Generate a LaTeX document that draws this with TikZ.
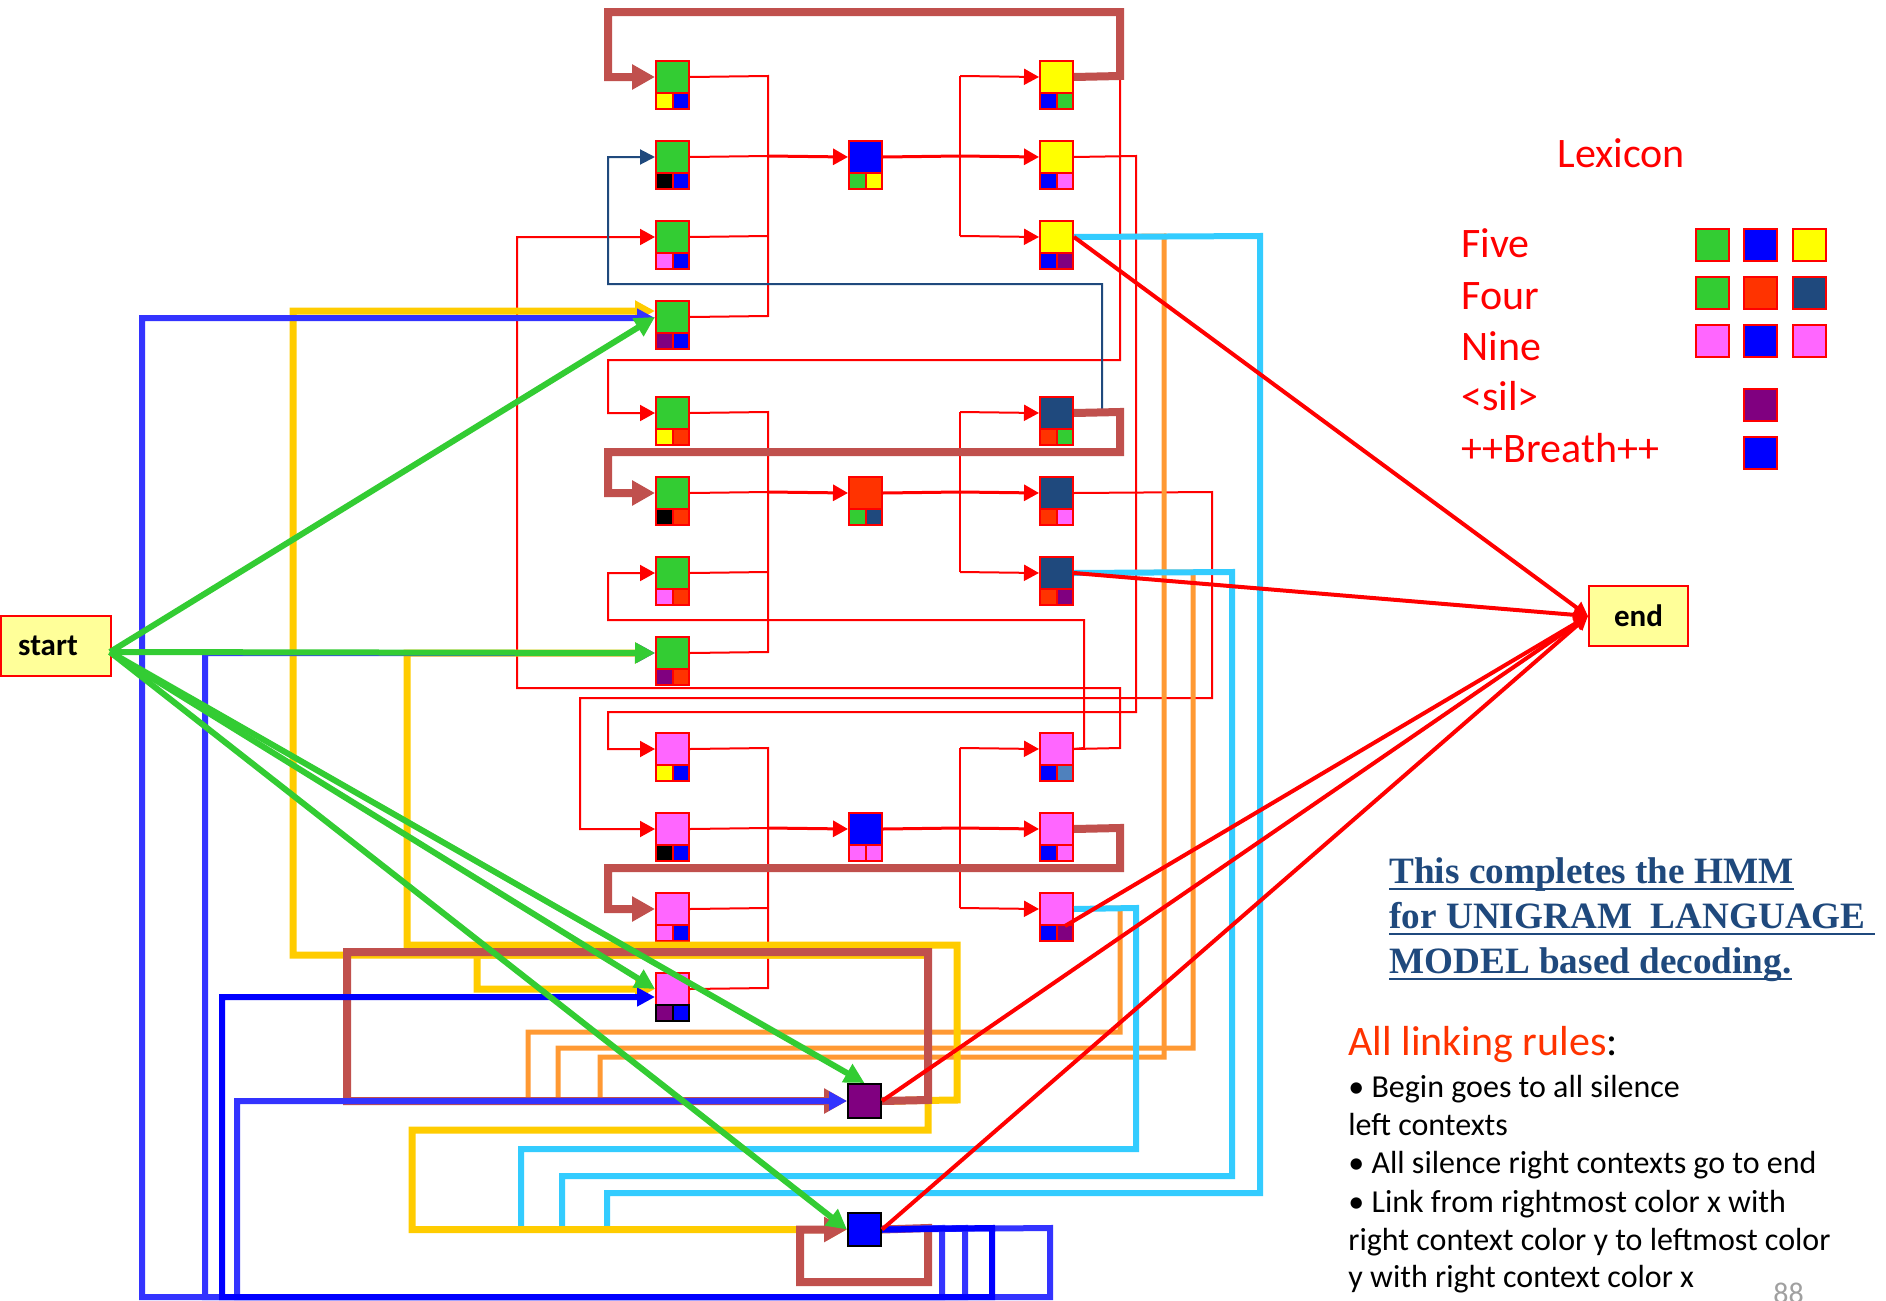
\documentclass[tikz,border=0pt]{standalone}
\usepackage{fontspec}
\setmainfont{Carlito}
\newfontfamily\tnr{Liberation Serif}
\usetikzlibrary{arrows.meta,calc}
\definecolor{cgreen}{HTML}{33CC33}
\definecolor{cblue}{HTML}{0000FF}
\definecolor{cyellow}{HTML}{FFFF00}
\definecolor{cred}{HTML}{FF3300}
\definecolor{cnavy}{HTML}{1F497D}
\definecolor{cpink}{HTML}{FF66FF}
\definecolor{cpurple}{HTML}{800080}
\definecolor{csteel}{HTML}{4F81BD}
\definecolor{cbrown}{HTML}{C0504D}
\definecolor{cgold}{HTML}{FFCC00}
\definecolor{clblue}{HTML}{3333FF}
\definecolor{corange}{HTML}{FF9933}
\definecolor{ccyan}{HTML}{33CCFF}
\definecolor{cstart}{HTML}{FFFF99}
\definecolor{chmm}{HTML}{1F497D}
\definecolor{cgray}{HTML}{A0A0A0}
\tikzset{
  sq/.style={draw=red, line width=1pt, anchor=north west, inner sep=0pt, minimum width=16.5pt, minimum height=16pt},
  subsq/.style={draw=red, line width=1pt, anchor=north west, inner sep=0pt, minimum width=8.25pt, minimum height=8pt},
  lx/.style={draw=red, line width=1pt, anchor=north west, inner sep=0pt, minimum width=16.5pt, minimum height=16pt},
  rl/.style={draw=red, line width=1pt},
  rlm/.style={draw=red, line width=1.5pt},
  rarr/.style={-{Triangle[length=7.5pt,width=8pt]}},
  navyl/.style={draw=cnavy, line width=1pt, -{Triangle[length=7.5pt,width=7.5pt]}},
  brl/.style={draw=cbrown, line width=4pt, -{Triangle[length=11.5pt,width=12pt]}},
  yl/.style={draw=cgold, line width=3.5pt, -{Triangle[length=10pt,width=10pt]}},
  bll/.style={draw=clblue, line width=3pt, -{Triangle[length=9pt,width=9pt]}},
  dbl/.style={draw=cblue, line width=3pt, -{Triangle[length=9pt,width=9pt]}},
  orl/.style={draw=corange, line width=2.5pt},
  cyl/.style={draw=ccyan, line width=3pt},
  gl/.style={draw=cgreen, line width=3pt, -{Triangle[length=10pt,width=10pt]}},
  el/.style={draw=red, line width=2pt, -{Triangle[length=7pt,width=7pt]}},
  txt/.style={anchor=base west, inner sep=0pt}
}
\newcommand{\hnode}[7][]{%
  \node[sq, fill=#5] (#2) at (#3,#4) {};
  \node[subsq, fill=#6, #1] (#2l) at (#3,#4+32) {};
  \node[subsq, fill=#7, #1] (#2r) at (#3+16.5,#4+32) {};
}
\begin{document}
\begin{tikzpicture}[x=0.5pt,y=-0.5pt]
\useasboundingbox (0,0) rectangle (1886,1301);
\fill[white] (0,0) rectangle (1886,1301);

% ---------- nodes: Five
\hnode{fa1}{655}{60}{cgreen}{cyellow}{cblue}
\hnode{fa2}{655}{140}{cgreen}{black}{cblue}
\hnode{fa3}{655}{220}{cgreen}{cpink}{cblue}
\hnode{fa4}{655}{300}{cgreen}{cpurple}{cblue}
\hnode{fm}{848}{140}{cblue}{cgreen}{cyellow}
\hnode{fr1}{1039}{60}{cyellow}{cblue}{cgreen}
\hnode{fr2}{1039}{140}{cyellow}{cblue}{cpink}
\hnode{fr3}{1039}{220}{cyellow}{cblue}{cpurple}
% ---------- Four
\hnode{oa1}{655}{396}{cgreen}{cyellow}{cred}
\hnode{oa2}{655}{476}{cgreen}{black}{cred}
\hnode{oa3}{655}{556}{cgreen}{cpink}{cred}
\hnode{oa4}{655}{636}{cgreen}{cpurple}{cred}
\hnode{om}{848}{476}{cred}{cgreen}{cnavy}
\hnode{or1}{1039}{396}{cnavy}{cred}{cgreen}
\hnode{or2}{1039}{476}{cnavy}{cred}{cpink}
\hnode{or3}{1039}{556}{cnavy}{cred}{cpurple}
% ---------- Nine
\hnode{na1}{655}{732}{cpink}{cyellow}{cblue}
\hnode{na2}{655}{812}{cpink}{black}{cblue}
\hnode{na3}{655}{892}{cpink}{cpink}{cblue}
\hnode[draw=black]{na4}{655}{972}{cpink}{cpurple}{cblue}
\hnode{nm}{848}{812}{cblue}{cpink}{cpink}
\hnode{nr1}{1039}{732}{cpink}{cblue}{csteel}
\hnode{nr2}{1039}{812}{cpink}{cblue}{cpink}
\hnode{nr3}{1039}{892}{cpink}{cblue}{cpurple}
% ---------- silence and breath
\node[draw=black, line width=1pt, fill=cpurple, anchor=north west, inner sep=0pt, minimum width=16.5pt, minimum height=17pt] (sil) at (847,1083) {};
\node[draw=black, line width=1pt, fill=cblue, anchor=north west, inner sep=0pt, minimum width=16.5pt, minimum height=16.5pt] (br) at (847,1212) {};

% ---------- start / end
\node[draw=red, fill=cstart, line width=1pt, anchor=north west, inner sep=0pt, minimum width=55pt, minimum height=30pt] (start) at (0,615) {\fontsize{15.5pt}{18pt}\selectfont\bfseries\hspace*{-8pt}start};
\node[draw=red, fill=cstart, line width=1pt, anchor=north west, inner sep=0pt, minimum width=49.5pt, minimum height=30pt] (end) at (1588,585) {\fontsize{15.5pt}{18pt}\selectfont\bfseries end};
\coordinate (s0) at (110,652);

% ---------- internal word links (thin red)
% Five
\draw[rl] (fa1.east) -- (768,76) -- (768,316) -- (fa4.east);
\draw[rl] (fa2.east) -- (768,156);
\draw[rl] (fa3.east) -- (768,236);
\draw[rlm,rarr] (768,156) -- (fm.west);
\draw[rlm] (fm.east) -- (960,156);
\draw[rl] (960,76) -- (960,236);
\draw[rl,rarr] (960,76) -- (fr1.west);
\draw[rlm,rarr] (960,156) -- (fr2.west);
\draw[rl,rarr] (960,236) -- (fr3.west);
% Four
\draw[rl] (oa1.east) -- (768,412) -- (768,652) -- (oa4.east);
\draw[rl] (oa2.east) -- (768,492);
\draw[rl] (oa3.east) -- (768,572);
\draw[rlm,rarr] (768,492) -- (om.west);
\draw[rlm] (om.east) -- (960,492);
\draw[rl] (960,412) -- (960,572);
\draw[rl,rarr] (960,412) -- (or1.west);
\draw[rlm,rarr] (960,492) -- (or2.west);
\draw[rl,rarr] (960,572) -- (or3.west);
% Nine
\draw[rl] (na1.east) -- (768,748) -- (768,988) -- (na4.east);
\draw[rl] (na2.east) -- (768,828);
\draw[rl] (na3.east) -- (768,908);
\draw[rlm,rarr] (768,828) -- (nm.west);
\draw[rlm] (nm.east) -- (960,828);
\draw[rl] (960,748) -- (960,908);
\draw[rl,rarr] (960,748) -- (nr1.west);
\draw[rlm,rarr] (960,828) -- (nr2.west);
\draw[rl,rarr] (960,908) -- (nr3.west);

% ---------- cross-word links (thin red)
\draw[rl,rarr] (fr1.east) -- (1120,76) -- (1120,360) -- (608,360) |- (oa1.west);
\draw[rl,rarr] (fr2.east) -- (1136,156) -- (1136,712) -- (608,712) |- (na1.west);
\draw[rl,rarr] (nr1.east) -- (1084,748) -- (1084,620) -- (608,620) |- (oa3.west);
\draw[rl,rarr] (nr1.east) -- (1120,748) -- (1120,688) -- (517,688) |- (fa3.west);
\draw[rl,rarr] (or2.east) -- (1212,492) -- (1212,698) -- (580,698) |- (na2.west);
\draw[navyl] (or1.east) -- (1102,412) -- (1102,284) -- (608,284) |- (fa2.west);

% ---------- orange (to silence)
\draw[orl] (fr3.east) -- (1164,236) -- (1164,1057) -- (600,1057) -- (600,1100);
\draw[orl] (or3.east) -- (1193,572) -- (1193,1048) -- (558,1048) -- (558,1100);
\draw[orl] (nr3.east) -- (1120,908) -- (1120,1032) -- (528,1032) -- (528,1100);
% ---------- cyan (to breath)
\draw[cyl] (fr3.east) -- (1260,236) -- (1260,1193) -- (607,1193) -- (607,1228);
\draw[cyl] (or3.east) -- (1232,572) -- (1232,1176) -- (562,1176) -- (562,1228);
\draw[cyl] (nr3.east) -- (1136,908) -- (1136,1149) -- (521,1149) -- (521,1228);

% ---------- yellow (from silence)
\draw[yl] (sil.east) -- (928,1100) -- (928,955) -- (293,955) -- (293,311) -- (655,311);
\draw[yl] (sil.east) -- (928,1100) -- (928,955) -- (477,955) |- (na4.west);
\draw[yl] (sil.east) -- (957,1100) -- (957,945) -- (407,945) |- (oa4.west);
\draw[yl] (sil.east) -- (928,1100) -- (928,1130) -- (412,1130) |- (br.west);

% ---------- brown self loops
\draw[brl] (fr1.east) -- (1120,76) -- (1120,12) -- (608,12) |- (fa1.west);
\draw[brl] (or1.east) -- (1120,412) -- (1120,452) -- (608,452) |- (oa2.west);
\draw[brl] (nr2.east) -- (1120,828) -- (1120,868) -- (608,868) |- (na3.west);
\draw[brl] (sil.east) -- (928,1100) -- (928,952) -- (347,952) |- (sil.west);
\draw[brl] (br.east) -- (928,1228) -- (928,1282) -- (800,1282) |- (br.west);

% ---------- blue (from breath)
\draw[bll] (br.east) -- (1050,1228) -- (1050,1297) -- (142,1297) -- (142,318) -- (655,318);
\draw[bll] (br.east) -- (942,1228) -- (942,1297) -- (237,1297) |- (sil.west);
\draw[bll] (br.east) -- (965,1228) -- (965,1297) -- (205,1297) |- (oa4.west);
\draw[dbl] (br.east) -- (992,1228) -- (992,1297) -- (222,1297) -- (222,997) -- (655,997);

% ---------- red to end
\draw[el] (fr3.east) -- (end.west);
\draw[el] (or3.east) -- (end.west);
\draw[el] ($(nr3.south east)+(-9,0)$) -- (end.west);
\draw[el] (sil.east) -- (end.west);
\draw[el] (br.east) -- (end.west);

% ---------- green (from start)
\draw[gl] (s0) -- (fa4.west);
\draw[gl] (s0) -- (oa4.west);
\draw[gl] (s0) -- (na4.west);
\draw[gl] (s0) -- (sil.north);
\draw[gl] (s0) -- (br.west);

% ---------- Lexicon
\begin{scope}[every node/.append style={text=red}]
\node[txt] (lexT) at (1557,167) {\fontsize{21pt}{24pt}\selectfont Lexicon};
\node[txt] (lexA) at (1461,257) {\fontsize{21pt}{24pt}\selectfont Five};
\node[txt] (lexB) at (1461,309) {\fontsize{21pt}{24pt}\selectfont Four};
\node[txt] (lexC) at (1461,360) {\fontsize{21pt}{24pt}\selectfont Nine};
\node[txt] (lexD) at (1461,410) {\fontsize{21pt}{24pt}\selectfont <sil>};
\node[txt] (lexE) at (1461,462) {\fontsize{21pt}{24pt}\selectfont ++Breath++};
\end{scope}
\node[lx, fill=cgreen] (q11) at (1695,228) {};
\node[lx, fill=cblue] (q12) at (1743,228) {};
\node[lx, fill=cyellow] (q13) at (1792,228) {};
\node[lx, fill=cgreen] (q21) at (1695,276) {};
\node[lx, fill=cred] (q22) at (1743,276) {};
\node[lx, fill=cnavy] (q23) at (1792,276) {};
\node[lx, fill=cpink] (q31) at (1695,324) {};
\node[lx, fill=cblue] (q32) at (1743,324) {};
\node[lx, fill=cpink] (q33) at (1792,324) {};
\node[lx, fill=cpurple] (q42) at (1743,388) {};
\node[lx, fill=cblue] (q52) at (1743,436) {};

% ---------- HMM text
\node[txt, text=chmm] (h1) at (1389,883) {\tnr\fontsize{18.6pt}{22pt}\selectfont\bfseries This completes the HMM};
\node[txt, text=chmm] (h2) at (1389,928) {\tnr\fontsize{18.6pt}{22pt}\selectfont\bfseries for UNIGRAM\ \ LANGUAGE};
\node[txt, text=chmm] (h3) at (1389,973) {\tnr\fontsize{18.6pt}{22pt}\selectfont\bfseries MODEL based decoding.};
\draw[chmm, line width=1.2pt] ($(h1.base west)+(0,6)$) -- ($(h1.base east)+(0,6)$);
\draw[chmm, line width=1.2pt] ($(h2.base west)+(0,6)$) -- (1875,934);
\draw[chmm, line width=1.2pt] ($(h3.base west)+(0,6)$) -- ($(h3.base east)+(0,6)$);

% ---------- linking rules
\node[txt] (r0) at (1348,1055) {\fontsize{21pt}{24pt}\selectfont\textcolor{cred}{All linking rules}:};
\node[txt] (r1) at (1348,1097) {\fontsize{16pt}{18pt}\selectfont • Begin goes to all silence};
\node[txt] (r2) at (1348,1135) {\fontsize{16pt}{18pt}\selectfont left contexts};
\node[txt] (r3) at (1348,1173) {\fontsize{16pt}{18pt}\selectfont • All silence right contexts go to end};
\node[txt] (r4) at (1348,1212) {\fontsize{16pt}{18pt}\selectfont • Link from rightmost color x with};
\node[txt] (r5) at (1348,1250) {\fontsize{16pt}{18pt}\selectfont right context color y to leftmost color};
\node[txt] (r6) at (1348,1287) {\fontsize{16pt}{18pt}\selectfont y with right context color x};
\node[txt, text=cgray] (pg) at (1773,1303) {\fontsize{15pt}{18pt}\selectfont 88};
\end{tikzpicture}
\end{document}
